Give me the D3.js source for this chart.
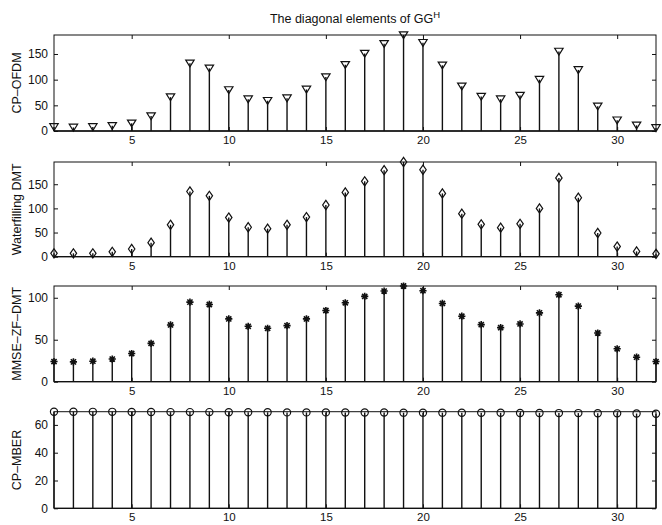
<!DOCTYPE html>
<html>
<head>
<meta charset="utf-8">
<script src="https://cdn.jsdelivr.net/npm/d3@7"></script>
<style>
  body { margin: 0; background: #fff; }
  svg { display: block; font-family: "Liberation Sans", Arial, Helvetica, sans-serif; }
</style>
</head>
<body>
<svg id="chart" width="662" height="525"></svg>
<script>
// Subcarrier index 1..32
const subcarriers = [1,2,3,4,5,6,7,8,9,10,11,12,13,14,15,16,17,18,19,20,21,22,23,24,25,26,27,28,29,30,31,32];
const xTicks = [5, 10, 15, 20, 25, 30];

const cpOfdm = [8,7,8,10,15,29,66,132,122,80,62,59,64,81,105,129,151,170,187,172,128,87,67,62,69,100,155,119,48,21,11,6];
const waterfillingDmt = [7,7,7,10,16,29,66,135,126,81,61,58,66,82,107,133,156,179,196,180,131,89,67,60,68,100,163,122,49,21,11,6];
const mmseZfDmt = [24,23.6,24.4,27,33.6,45.6,67.6,94.8,92,74.8,66,63.6,66.8,74.8,84.8,94,101.6,108,114,108.4,93.2,78,68,64.4,68.8,82,103.6,90,58,39.2,29.2,24];
const cpMber = [69.5,69.5,69.4,69.4,69.3,69.3,69.2,69.2,69.2,69.1,69.1,69.1,69.0,69.0,69.0,68.9,68.9,68.9,68.8,68.8,68.8,68.7,68.7,68.7,68.6,68.6,68.5,68.5,68.4,68.3,68.2,68.0];

const panelLabels = ["CP\u2013OFDM", "Waterfilling DMT", "MMSE\u2013ZF\u2013DMT", "CP\u2013MBER"];
const yTickSets = [[0,50,100,150], [0,50,100,150], [0,50,100], [0,20,40,60]];
const markerKinds = ["triangleDown", "diamond", "star", "circle"];
const seriesList = [cpOfdm, waterfillingDmt, mmseZfDmt, cpMber];

const svg = d3.select("#chart");
const left = 54, right = 656;
const panelBox = [[35, 131], [162, 256.7], [286, 381.7], [411.7, 508.3]];

const x = d3.scaleLinear().domain([1, 32]).range([left, right]);

// Marker path generators (centered at 0,0), open outlines
function markerPath(kind) {
  if (kind === "triangleDown") return "M-4.2,-3.2L4.2,-3.2L0,3.6Z";
  if (kind === "diamond") return "M0,-4.6L3.2,0L0,4.6L-3.2,0Z";
  if (kind === "circle") return "M3.6,0A3.6,3.6 0 1,1 -3.6,0A3.6,3.6 0 1,1 3.6,0Z";
  // asterisk: plus and cross combined
  const r = 3.6, d = r * 0.72;
  return `M${-r},0L${r},0M0,${-r}L0,${r}M${-d},${-d}L${d},${d}M${-d},${d}L${d},${-d}`;
}

// Title
const title = svg.append("text")
  .attr("x", (left + right) / 2).attr("y", 23)
  .attr("text-anchor", "middle")
  .attr("font-size", 12.5)
  .attr("fill", "#111");
title.append("tspan").text("The diagonal elements of GG");
title.append("tspan").attr("dy", -5).attr("font-size", 9.5).text("H");

seriesList.forEach((values, i) => {
  const [top, bottom] = panelBox[i];
  const y = d3.scaleLinear().domain([0, d3.max(values)]).range([bottom, top]);
  const g = svg.append("g");

  // Box
  g.append("rect")
    .attr("x", left).attr("y", top)
    .attr("width", right - left).attr("height", bottom - top)
    .attr("fill", "none").attr("stroke", "#111").attr("stroke-width", 1);

  // Bottom axis with inward ticks, plus matching top ticks
  g.append("g")
    .attr("transform", `translate(0,${bottom})`)
    .call(d3.axisBottom(x).tickValues(xTicks).tickSizeInner(-4).tickSizeOuter(0).tickPadding(5))
    .call(a => a.select(".domain").remove())
    .call(a => a.selectAll("text").attr("font-size", 11.5).attr("fill", "#111").attr("font-family", "Liberation Sans, Arial, sans-serif"))
    .call(a => a.selectAll("line").attr("stroke", "#111"));
  g.append("g")
    .attr("transform", `translate(0,${top})`)
    .call(d3.axisTop(x).tickValues(xTicks).tickSizeInner(-4).tickSizeOuter(0).tickFormat(""))
    .call(a => a.select(".domain").remove())
    .call(a => a.selectAll("line").attr("stroke", "#111"));

  // Left axis with inward ticks, plus matching right ticks
  g.append("g")
    .attr("transform", `translate(${left},0)`)
    .call(d3.axisLeft(y).tickValues(yTickSets[i]).tickSizeInner(-4).tickSizeOuter(0).tickPadding(6))
    .call(a => a.select(".domain").remove())
    .call(a => a.selectAll("text").attr("font-size", 12).attr("fill", "#111").attr("font-family", "Liberation Sans, Arial, sans-serif"))
    .call(a => a.selectAll("line").attr("stroke", "#111"));
  g.append("g")
    .attr("transform", `translate(${right},0)`)
    .call(d3.axisRight(y).tickValues(yTickSets[i]).tickSizeInner(-4).tickSizeOuter(0).tickFormat(""))
    .call(a => a.select(".domain").remove())
    .call(a => a.selectAll("line").attr("stroke", "#111"));

  // Y label
  g.append("text")
    .attr("transform", `translate(21,${(top + bottom) / 2}) rotate(-90)`)
    .attr("text-anchor", "middle")
    .attr("font-size", 12.5)
    .attr("fill", "#111")
    .text(panelLabels[i]);

  // Stem baseline
  g.append("line")
    .attr("x1", left).attr("x2", right)
    .attr("y1", y(0)).attr("y2", y(0))
    .attr("stroke", "#111").attr("stroke-width", 1.3);

  // Stems
  g.selectAll(".stem").data(values).join("line")
    .attr("class", "stem")
    .attr("x1", (d, j) => x(subcarriers[j])).attr("x2", (d, j) => x(subcarriers[j]))
    .attr("y1", y(0)).attr("y2", d => y(d))
    .attr("stroke", "#111").attr("stroke-width", 1.4);

  // Markers
  const path = markerPath(markerKinds[i]);
  g.selectAll(".mk").data(values).join("path")
    .attr("class", "mk")
    .attr("transform", (d, j) => `translate(${x(subcarriers[j])},${y(d)})`)
    .attr("d", path)
    .attr("fill", "none")
    .attr("stroke", "#111")
    .attr("stroke-width", markerKinds[i] === "star" ? 1.6 : 1.2);
});
</script>
</body>
</html>
